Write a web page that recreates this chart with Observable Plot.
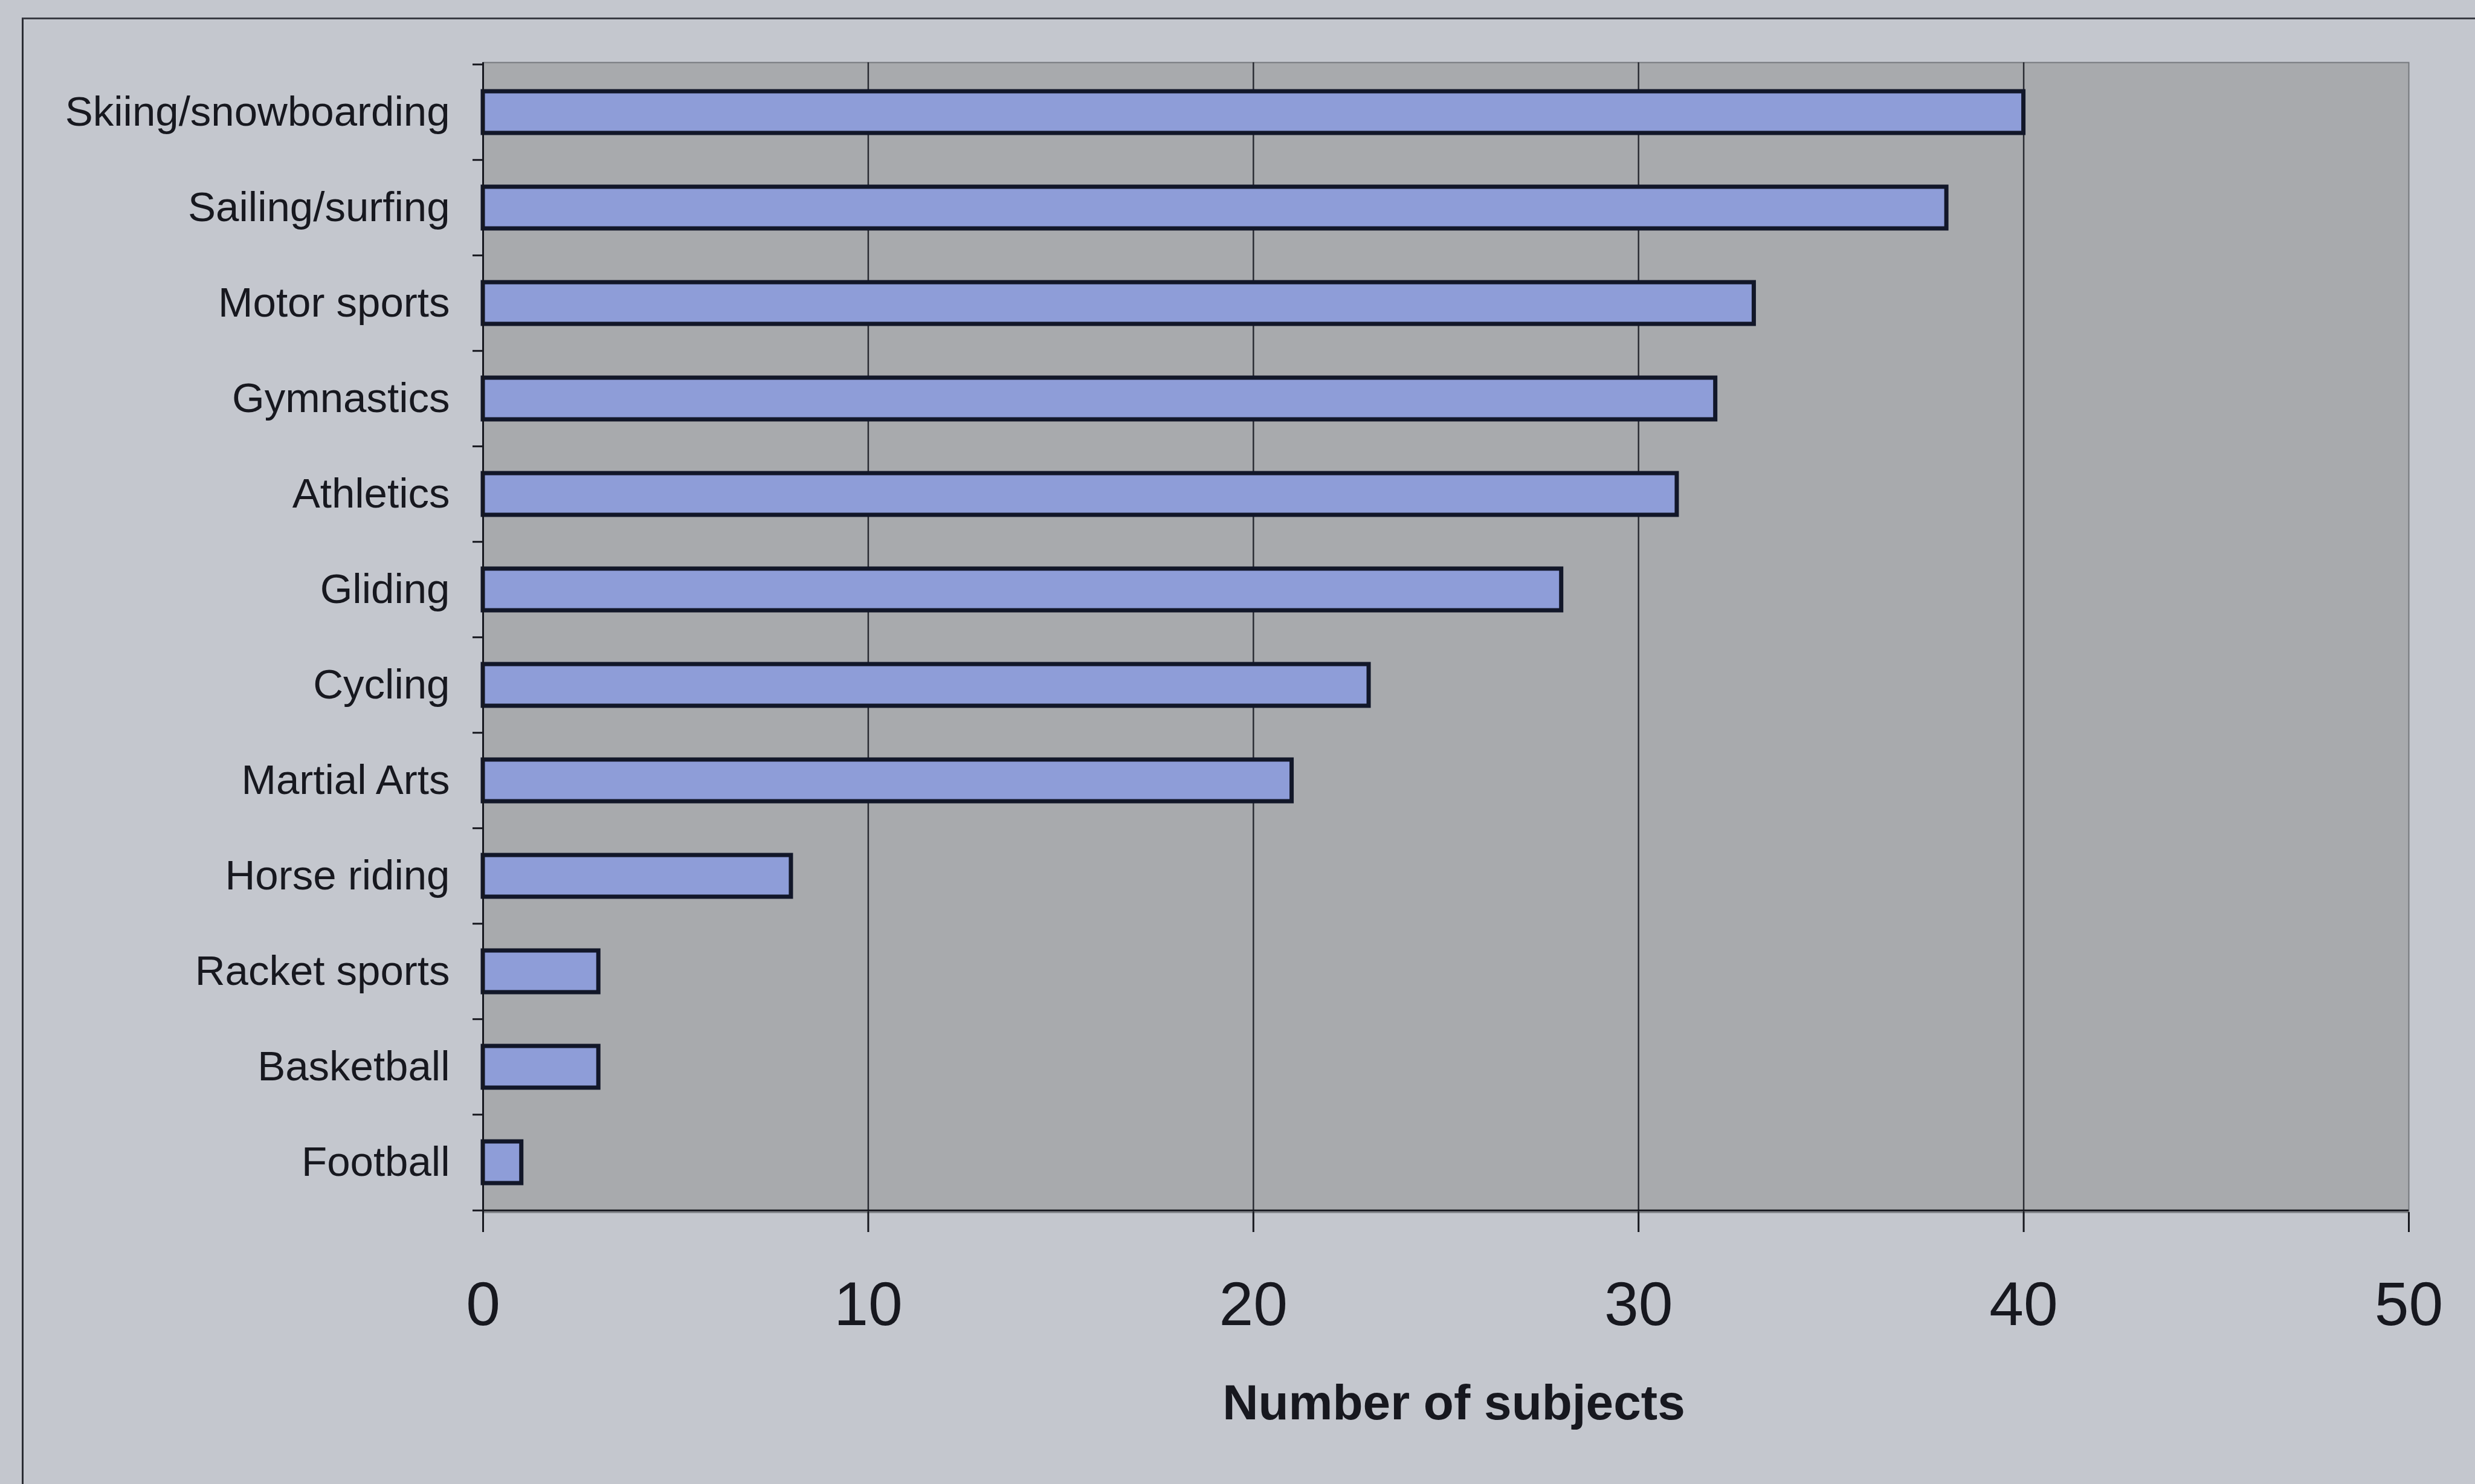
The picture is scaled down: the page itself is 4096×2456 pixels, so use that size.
<!DOCTYPE html>
<html>
<head>
<meta charset="utf-8">
<script src="https://cdn.jsdelivr.net/npm/d3@7"></script>
<script src="https://cdn.jsdelivr.net/npm/@observablehq/plot@0.6"></script>
<style>
  html, body { margin: 0; padding: 0; overflow: hidden; }
  body { width: 4096px; height: 2456px; background: #c4c7ce; position: relative; font-family: "Liberation Sans", Arial, sans-serif; }
  #frame { position: absolute; left: 36px; top: 29px; width: 4200px; height: 2600px; border-left: 3px solid #2b2d34; border-top: 3px solid #3a3c44; box-sizing: border-box; }
  #chart { position: absolute; left: 0; top: 0; }
</style>
</head>
<body>
<div id="frame"></div>
<div id="chart"></div>
<script>
const categories = ["Skiing/snowboarding", "Sailing/surfing", "Motor sports", "Gymnastics", "Athletics", "Gliding", "Cycling", "Martial Arts", "Horse riding", "Racket sports", "Basketball", "Football"];
const subjects = [40, 38, 33, 32, 31, 28, 23, 21, 8, 3, 3, 1];
const xTicks = [0, 10, 20, 30, 40, 50];
const xGrid = [10, 20, 30, 40];
const xLabel = "Number of subjects";

const data = categories.map((c, i) => ({sport: c, n: subjects[i]}));

const W = 4096, H = 2456;
const mL = 799, mR = W - 3986, mT = 103, mB = H - 2006;
const step = (H - mT - mB) / categories.length;

const chart = Plot.plot({
  width: W,
  height: H,
  marginLeft: mL,
  marginRight: mR,
  marginTop: mT,
  marginBottom: mB,
  style: {background: "transparent", fontFamily: "'Liberation Sans', Arial, sans-serif", color: "#17181f", overflow: "visible"},
  x: {domain: [0, 50], ticks: xTicks},
  y: {domain: categories, paddingInner: 0.565, paddingOuter: 0.2825},
  marks: [
    Plot.frame({fill: "#a8aaad", stroke: "#75787d", strokeWidth: 2}),
    Plot.ruleX(xGrid, {stroke: "#2a2c33", strokeWidth: 2.5}),
    Plot.barX(data, {x: "n", y: "sport", fill: "#8e9dd8", stroke: "#121729", strokeWidth: 7}),
    Plot.ruleX([0], {stroke: "#17181f", strokeWidth: 3}),
    Plot.ruleY([categories[categories.length - 1]], {stroke: "#17181f", strokeWidth: 3, dy: step / 2}),
    Plot.axisX({ticks: xTicks, tickSize: 33, tickPadding: 81, fontSize: 102, label: null, strokeWidth: 3}),
    Plot.axisY({tickSize: 17, fill: "none", label: null, dy: -step / 2, strokeWidth: 3}),
    Plot.axisY([categories[categories.length - 1]], {tickSize: 17, fill: "none", label: null, dy: step / 2, strokeWidth: 3}),
    Plot.axisY({tickSize: 0, tickPadding: 55, fontSize: 69, label: null}),
    Plot.text([xLabel], {frameAnchor: "bottom", dy: 342, dx: 13, fontSize: 82, fontWeight: "bold", fill: "#17181f"})
  ]
});
document.getElementById("chart").appendChild(chart);
</script>
</body>
</html>
